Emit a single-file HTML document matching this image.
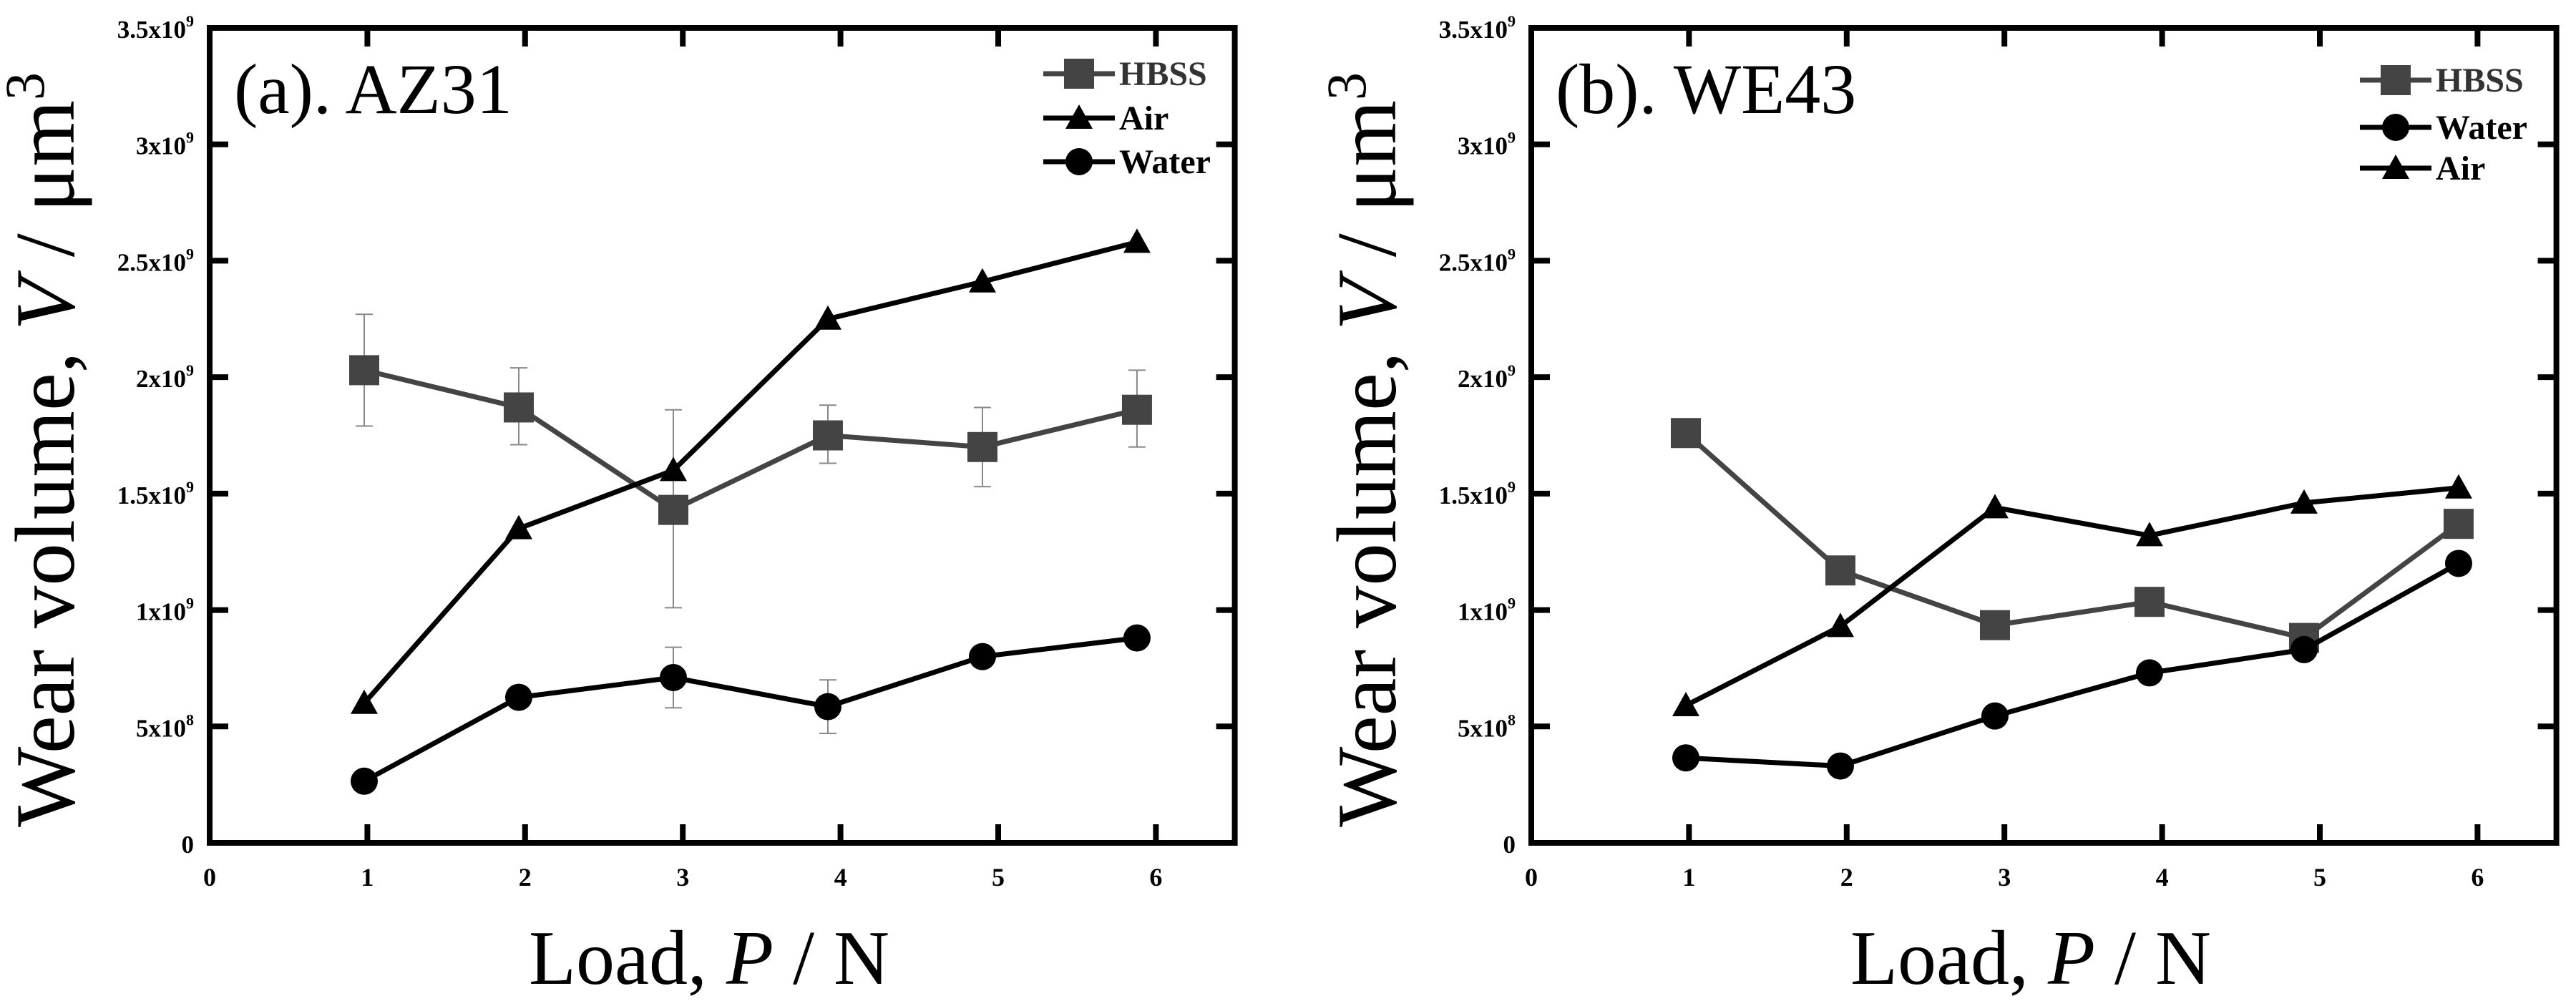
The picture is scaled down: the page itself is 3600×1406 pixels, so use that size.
<!DOCTYPE html>
<html><head><meta charset="utf-8"><style>
html,body{margin:0;padding:0;background:#fff}
svg{display:block}
text{font-family:"Liberation Serif",serif}
</style></head><body>
<svg id="chart" width="3600" height="1406" viewBox="0 0 3600 1406" xmlns="http://www.w3.org/2000/svg"></svg>
<script>
const xCats = [0.98, 1.96, 2.94, 3.92, 4.9, 5.88];
const xTicks = [0, 1, 2, 3, 4, 5, 6];
const yTicks = [0, 0.5, 1, 1.5, 2, 2.5, 3, 3.5];
const yTickMant = ["0", "5x10", "1x10", "1.5x10", "2x10", "2.5x10", "3x10", "3.5x10"];
const yTickExp = ["", "8", "9", "9", "9", "9", "9", "9"];
// AZ31 (units 1e9 um^3)
const azHbss = [2.03, 1.87, 1.43, 1.75, 1.70, 1.86];
const azHbssHi = [2.27, 2.04, 1.86, 1.88, 1.87, 2.03];
const azHbssLo = [1.79, 1.71, 1.01, 1.63, 1.53, 1.70];
const azAir = [0.60, 1.35, 1.60, 2.25, 2.41, 2.58];
const azWater = [0.265, 0.625, 0.71, 0.585, 0.80, 0.88];
const azWaterHi = [0.265, 0.625, 0.84, 0.70, 0.80, 0.88];
const azWaterLo = [0.265, 0.625, 0.58, 0.47, 0.80, 0.88];
// WE43
const weHbss = [1.76, 1.17, 0.935, 1.035, 0.88, 1.37];
const weWater = [0.365, 0.33, 0.545, 0.73, 0.83, 1.2];
const weAir = [0.59, 0.93, 1.44, 1.32, 1.46, 1.525];

const NS = "http://www.w3.org/2000/svg";
const svg = document.getElementById("chart");
function mk(tag, attrs, parent){const e=document.createElementNS(NS,tag);for(const k in attrs)e.setAttribute(k,attrs[k]);(parent||svg).appendChild(e);return e;}

function panel(ox, label, series, legendOrder, legendX){
  const unit = 220.4, y0 = 1178, yTop = 39, xMax = 6.5, yMax = 3.5;
  const X = v => ox + v*unit;
  const Y = v => y0 - v/yMax*(y0-yTop);
  const g = mk("g",{});
  
  
  xTicks.forEach(t=>{
    const l1 = mk("line",{x1:X(t),x2:X(t),y1:y0,y2:y0-26,stroke:"#000","stroke-width":8},g);
    
    
    mk("line",{x1:X(t),x2:X(t),y1:yTop,y2:yTop+26,stroke:"#000","stroke-width":8},g);
    const tx = mk("text",{x:X(t),y:1238,"text-anchor":"middle","font-size":36,"font-weight":"bold"},g);
    tx.textContent = t;
    
    
  });
  yTicks.forEach((t,i)=>{
    const l1 = mk("line",{x1:ox,x2:ox+26,y1:Y(t),y2:Y(t),stroke:"#000","stroke-width":8},g);
    
    
    mk("line",{x1:X(xMax),x2:X(xMax)-26,y1:Y(t),y2:Y(t),stroke:"#000","stroke-width":8},g);
    const tx = mk("text",{x:ox-22,y:Y(t)+14,"text-anchor":"end","font-size":35,"font-weight":"bold"},g);
    
    
    tx.appendChild(document.createTextNode(yTickMant[i]));
    if(yTickExp[i]){const ts=mk("tspan",{dy:-16,"font-size":22},tx);ts.textContent=yTickExp[i];}
  });
  const box = mk("rect",{x:ox,y:yTop,width:X(xMax)-ox,height:y0-yTop,fill:"none",stroke:"#000","stroke-width":8},g);
  
  
  series.forEach(s=>{
    const sg = mk("g",{},g);
    
    
    if(s.hi){
      s.vals.forEach((v,i)=>{
        if(s.hi[i]===s.lo[i]) return;
        mk("line",{x1:X(xCats[i]),x2:X(xCats[i]),y1:Y(s.hi[i]),y2:Y(s.lo[i]),stroke:"#888","stroke-width":2},sg);
        mk("line",{x1:X(xCats[i])-12,x2:X(xCats[i])+12,y1:Y(s.hi[i]),y2:Y(s.hi[i]),stroke:"#888","stroke-width":2},sg);
        mk("line",{x1:X(xCats[i])-12,x2:X(xCats[i])+12,y1:Y(s.lo[i]),y2:Y(s.lo[i]),stroke:"#888","stroke-width":2},sg);
      });
    }
    const pts = s.vals.map((v,i)=>X(xCats[i])+","+Y(v)).join(" ");
    const pl = mk("polyline",{points:pts,fill:"none",stroke:s.color,"stroke-width":7,"stroke-linejoin":"round"},sg);
    
    
    s.vals.forEach((v,i)=>{
      const m = marker(s.marker, X(xCats[i]), Y(v), s.color, sg, 1);
      
      
    });
  });
  legendOrder.forEach((s,i)=>{
    const ly = s.ly;
    const lg = mk("g",{},g);
    
    
    mk("line",{x1:legendX,x2:legendX+100,y1:ly,y2:ly,stroke:s.color,"stroke-width":7},lg);
    marker(s.marker, legendX+50, ly, s.color, lg, 1);
    const t = mk("text",{x:legendX+106,y:ly+16,"font-size":48,"font-weight":"bold",fill:s.color==="#444"?"#333":"#000"},lg);
    t.textContent = s.name;
  });
  const pt = mk("text",{x:ox+34,y:158,"font-size":100},g);
  pt.textContent = label.text;
  
  
  const yt = mk("text",{transform:`translate(${ox-190},${(y0+yTop)/2+20}) rotate(-90)`,"text-anchor":"middle","font-size":119},g);
  
  
  yt.appendChild(document.createTextNode("Wear volume,  "));
  const it = mk("tspan",{"font-style":"italic"},yt); it.textContent="V";
  yt.appendChild(document.createTextNode(" / μm"));
  const sp = mk("tspan",{dy:-42,"font-size":78},yt); sp.textContent="3";
  const xt = mk("text",{x:ox+698,y:1375,"text-anchor":"middle","font-size":108},g);
  
  
  xt.appendChild(document.createTextNode("Load, "));
  const ip = mk("tspan",{"font-style":"italic"},xt); ip.textContent="P";
  xt.appendChild(document.createTextNode(" / N"));
}
function marker(type,x,y,color,parent,sc){
  if(type==="sq") return mk("rect",{x:x-21*sc,y:y-21*sc,width:42*sc,height:42*sc,fill:color},parent);
  if(type==="ci") return mk("circle",{cx:x,cy:y,r:19*sc,fill:color},parent);
  return mk("polygon",{points:`${x},${y-19*sc} ${x+19*sc},${y+15*sc} ${x-19*sc},${y+15*sc}`,fill:color},parent);
}
const azS = [
  {name:"HBSS",vals:azHbss,hi:azHbssHi,lo:azHbssLo,marker:"sq",color:"#444",ly:103},
  {name:"Air",vals:azAir,marker:"tr",color:"#000",ly:165},
  {name:"Water",vals:azWater,hi:azWaterHi,lo:azWaterLo,marker:"ci",color:"#000",ly:226}
];
panel(293,{key:"az31",text:"(a). AZ31"},azS,azS,1458);
const weS = [
  {name:"HBSS",vals:weHbss,marker:"sq",color:"#444",ly:112},
  {name:"Water",vals:weWater,marker:"ci",color:"#000",ly:178},
  {name:"Air",vals:weAir,marker:"tr",color:"#000",ly:235}
];
panel(2140,{key:"we43",text:"(b). WE43"},weS,weS,3298);
</script>
</body></html>
